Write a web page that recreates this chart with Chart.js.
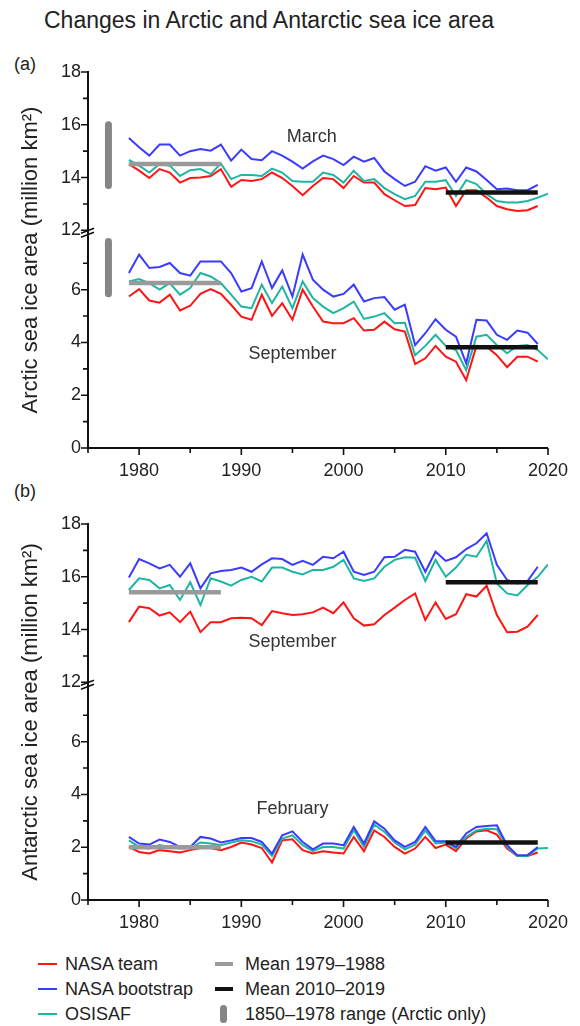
<!DOCTYPE html>
<html>
<head>
<meta charset="utf-8">
<script src="https://cdn.jsdelivr.net/npm/chart.js@4.4.1/dist/chart.umd.min.js"></script>
<style>
    html, body { margin: 0; padding: 0; background: #fff; }
    #page { position: relative; width: 580px; height: 1026px; overflow: hidden; font-family: 'Liberation Sans', Arial, sans-serif; color: #222; }
    #title { position: absolute; left: 0; top: 7px; width: 538px; text-align: center; font-size: 23px; }
    .panel { position: absolute; left: 14px; font-size: 18px; }
    canvas { position: absolute; left: 0; }
    .sw { position: absolute; }
    .lt { position: absolute; font-size: 18px; line-height: 22px; white-space: nowrap; }
</style>
</head>
<body>
<div id="page">
    <div id="title">Changes in Arctic and Antarctic sea ice area</div>
    <div class="panel" style="top:54px">(a)</div>
    <div class="panel" style="top:481px">(b)</div>
    <canvas id="chartA" width="580" height="482" style="top:0"></canvas>
    <canvas id="chartB" width="580" height="460" style="top:482px"></canvas>
    <div id="legend"></div>
</div>
<script>
    'use strict';

    const FONT = "'Liberation Sans', Arial, sans-serif";
    const RED = '#ff1414';
    const BLUE = '#3b3bff';
    const TEAL = '#1fb5a3';
    const GREY = '#9a9a9a';
    const BLACK = '#111111';
    const RANGE = '#858585';

    const years = [1979, 1980, 1981, 1982, 1983, 1984, 1985, 1986, 1987, 1988,
        1989, 1990, 1991, 1992, 1993, 1994, 1995, 1996, 1997, 1998,
        1999, 2000, 2001, 2002, 2003, 2004, 2005, 2006, 2007, 2008,
        2009, 2010, 2011, 2012, 2013, 2014, 2015, 2016, 2017, 2018,
        2019, 2020];

    const xTicks = [1975, 1980, 1985, 1990, 1995, 2000, 2005, 2010, 2015, 2020];
    const xLabels = [1980, 1990, 2000, 2010, 2020];
    const yHighTicks = [12, 13, 14, 15, 16, 17, 18];
    const yHighLabels = [12, 14, 16, 18];
    const yLowTicks = [0, 1, 2, 3, 4, 5, 6, 7];
    const yLowLabels = [0, 2, 4, 6];

    // Arctic, March (million km2)
    const arcMarTeam = [14.51, 14.26, 13.98, 14.32, 14.19, 13.81, 13.98, 14.00, 14.06, 14.32,
        13.65, 13.91, 13.87, 13.94, 14.19, 13.98, 13.68, 13.33, 13.68, 13.98,
        13.94, 13.60, 14.06, 13.81, 13.81, 13.37, 13.14, 12.92, 12.96, 13.60,
        13.56, 13.62, 12.92, 13.52, 13.52, 13.24, 12.92, 12.80, 12.73, 12.76,
        12.92];
    const arcMarBoot = [15.50, 15.15, 14.83, 15.25, 15.25, 14.83, 15.00, 15.08, 15.02, 15.25,
        14.64, 15.06, 14.70, 14.66, 15.00, 14.83, 14.60, 14.34, 14.61, 14.83,
        14.70, 14.47, 14.79, 14.60, 14.74, 14.23, 13.94, 13.68, 13.84, 14.43,
        14.26, 14.38, 13.84, 14.38, 14.23, 13.91, 13.56, 13.58, 13.52, 13.52,
        13.72];
    const arcMarOsi = [14.67, 14.45, 14.19, 14.51, 14.45, 14.06, 14.28, 14.32, 14.13, 14.53,
        13.94, 14.10, 14.10, 14.06, 14.34, 14.19, 13.87, 13.84, 13.84, 14.19,
        14.10, 13.81, 14.26, 13.87, 13.94, 13.60, 13.37, 13.18, 13.30, 13.84,
        13.84, 13.90, 13.30, 13.90, 13.75, 13.37, 13.11, 13.05, 13.05, 13.11,
        13.24, 13.39];

    // Arctic, September
    const arcSepTeam = [5.74, 6.02, 5.59, 5.51, 5.81, 5.21, 5.39, 5.84, 6.02, 5.84,
        5.43, 4.98, 4.86, 5.81, 5.01, 5.49, 4.86, 6.00, 5.36, 4.79,
        4.73, 4.73, 4.92, 4.45, 4.48, 4.79, 4.50, 4.41, 3.18, 3.40,
        3.87, 3.46, 3.27, 2.57, 3.87, 3.84, 3.52, 3.06, 3.46, 3.46,
        3.27];
    const arcSepBoot = [6.63, 7.33, 6.82, 6.86, 7.01, 6.63, 6.53, 7.07, 7.07, 7.07,
        6.63, 5.93, 6.06, 7.07, 6.06, 6.73, 5.74, 7.33, 6.38, 6.00,
        5.74, 5.84, 6.19, 5.55, 5.68, 5.72, 5.24, 5.43, 3.90, 4.35,
        4.88, 4.48, 4.22, 3.21, 4.86, 4.83, 4.29, 4.10, 4.45, 4.37,
        3.94];
    const arcSepOsi = [6.31, 6.40, 6.25, 6.00, 6.25, 5.81, 6.06, 6.63, 6.50, 6.25,
        5.81, 5.36, 5.30, 6.19, 5.49, 6.12, 5.30, 6.31, 5.68, 5.36,
        5.11, 5.30, 5.55, 4.89, 4.98, 5.11, 4.73, 4.75, 3.52, 3.87,
        4.29, 3.87, 3.71, 2.95, 4.22, 4.29, 3.90, 3.59, 3.87, 3.90,
        3.71, 3.36];

    // Antarctic, September
    const antSepTeam = [14.28, 14.87, 14.81, 14.53, 14.65, 14.28, 14.68, 13.90, 14.28, 14.28,
        14.43, 14.45, 14.43, 14.17, 14.70, 14.62, 14.55, 14.58, 14.65, 14.83,
        14.62, 15.03, 14.43, 14.15, 14.20, 14.55, 14.83, 15.12, 15.37, 14.36,
        15.03, 14.40, 14.58, 15.34, 15.25, 15.66, 14.55, 13.90, 13.92, 14.11,
        14.55];
    const antSepBoot = [15.97, 16.67, 16.51, 16.32, 16.45, 16.00, 16.51, 15.56, 16.13, 16.22,
        16.26, 16.35, 16.19, 16.47, 16.70, 16.67, 16.45, 16.60, 16.45, 16.76,
        16.70, 16.95, 16.19, 16.07, 16.19, 16.74, 16.76, 17.02, 16.95, 16.19,
        16.95, 16.60, 16.74, 17.05, 17.27, 17.65, 16.45, 15.88, 15.75, 15.84,
        16.38];
    const antSepOsi = [15.50, 15.94, 15.88, 15.56, 15.69, 15.12, 15.79, 14.93, 15.94, 15.82,
        15.66, 15.88, 16.00, 15.82, 16.35, 16.35, 16.19, 16.09, 16.26, 16.26,
        16.38, 16.64, 15.94, 15.84, 15.94, 16.38, 16.64, 16.74, 16.72, 15.84,
        16.64, 16.00, 16.35, 16.83, 16.76, 17.36, 15.75, 15.37, 15.29, 15.69,
        16.00, 16.47];

    // Antarctic, February
    const antFebTeam = [2.01, 1.82, 1.76, 1.89, 1.85, 1.80, 1.89, 1.97, 1.97, 1.89,
        2.01, 2.18, 2.10, 1.97, 1.42, 2.26, 2.30, 1.89, 1.76, 1.85,
        1.80, 1.76, 2.39, 1.85, 2.64, 2.39, 2.01, 1.76, 1.95, 2.39,
        1.97, 2.10, 1.85, 2.33, 2.60, 2.64, 2.48, 1.95, 1.67, 1.67,
        1.80];
    const antFebBoot = [2.39, 2.14, 2.10, 2.29, 2.20, 2.01, 2.01, 2.39, 2.33, 2.18,
        2.26, 2.35, 2.35, 2.20, 1.76, 2.45, 2.60, 2.20, 1.92, 2.14,
        2.14, 2.08, 2.77, 2.14, 2.98, 2.70, 2.26, 2.01, 2.20, 2.77,
        2.23, 2.23, 2.01, 2.52, 2.77, 2.80, 2.83, 2.08, 1.70, 1.70,
        2.01];
    const antFebOsi = [2.26, 2.01, 1.95, 2.08, 2.01, 1.95, 1.97, 2.18, 2.14, 2.08,
        2.18, 2.26, 2.23, 2.10, 1.67, 2.33, 2.45, 2.08, 1.85, 2.01,
        2.01, 1.95, 2.64, 2.01, 2.86, 2.58, 2.18, 1.92, 2.10, 2.64,
        2.14, 2.18, 1.95, 2.39, 2.64, 2.70, 2.68, 2.01, 1.67, 1.67,
        1.95, 1.97];

    // means: [1979-1988, 2010-2019]
    const earlyPeriod = [1979, 1988];
    const latePeriod = [2010, 2019];
    const arcMarMeans = [14.51, 13.43];
    const arcSepMeans = [6.25, 3.82];
    const antSepMeans = [15.41, 15.79];
    const antFebMeans = [2.00, 2.18];

    // 1850-1978 range (Arctic only)
    const rangeYear = 1977;
    const arcMarRange = [13.7, 16.0];
    const arcSepRange = [5.85, 7.83];

    function series(values, color, axis) {
        return {
            data: values.map(function (v, i) { return { x: years[i], y: v }; }),
            borderColor: color,
            borderWidth: 2,
            pointRadius: 0,
            tension: 0,
            yAxisID: axis,
        };
    }

    function meanLine(period, value, color, axis) {
        return {
            data: [{ x: period[0], y: value }, { x: period[1], y: value }],
            borderColor: color,
            borderWidth: 4.5,
            pointRadius: 0,
            yAxisID: axis,
        };
    }

    function rangeBar(range, axis) {
        return {
            data: [{ x: rangeYear, y: range[0] }, { x: rangeYear, y: range[1] }],
            borderColor: RANGE,
            borderWidth: 7,
            borderCapStyle: 'round',
            pointRadius: 0,
            yAxisID: axis,
        };
    }

    function yScale(min, max, ticks, labels) {
        return {
            type: 'linear',
            position: 'left',
            stack: 'area',
            stackWeight: max - min,
            min: min,
            max: max,
            grid: { display: false, drawTicks: false },
            border: { display: true, color: BLACK, width: 2 },
            afterBuildTicks: function (scale) {
                scale.ticks = ticks.map(function (v) { return { value: v }; });
            },
            afterFit: function (scale) { scale.width = 88; },
            ticks: {
                padding: 7,
                autoSkip: false,
                color: '#222',
                font: { size: 18, family: FONT },
                callback: function (v) { return labels.includes(v) ? String(v) : ''; },
            },
        };
    }

    const xScale = {
        type: 'linear',
        min: 1975,
        max: 2020,
        grid: { display: false, drawTicks: false },
        border: { display: true, color: BLACK, width: 2 },
        afterBuildTicks: function (scale) {
            scale.ticks = xTicks.map(function (v) { return { value: v }; });
        },
        afterFit: function (scale) { scale.height = 32; },
        ticks: {
            padding: 12,
            autoSkip: false,
            maxRotation: 0,
            color: '#222',
            font: { size: 18, family: FONT },
            callback: function (v) { return xLabels.includes(v) ? String(v) : ''; },
        },
    };

    // tick marks, axis break, axis title and month labels
    const decorations = {
        id: 'decorations',
        afterDraw: function (chart, args, opts) {
            const ctx = chart.ctx;
            const area = chart.chartArea;
            const x = chart.scales.x;
            const hi = chart.scales.yHigh;
            const lo = chart.scales.yLow;

            ctx.save();
            ctx.strokeStyle = BLACK;
            ctx.lineWidth = 1.6;
            ctx.beginPath();
            xTicks.forEach(function (v) {
                const px = x.getPixelForValue(v);
                const len = xLabels.includes(v) ? 7 : 5;
                ctx.moveTo(px, area.bottom);
                ctx.lineTo(px, area.bottom + len);
            });
            yHighTicks.forEach(function (v) {
                const py = hi.getPixelForValue(v);
                const len = yHighLabels.includes(v) ? 7 : 5;
                ctx.moveTo(area.left, py);
                ctx.lineTo(area.left - len, py);
            });
            yLowTicks.forEach(function (v) {
                const py = lo.getPixelForValue(v);
                const len = yLowLabels.includes(v) ? 7 : 5;
                ctx.moveTo(area.left, py);
                ctx.lineTo(area.left - len, py);
            });
            ctx.stroke();

            // break symbol on the y axis
            const by = hi.bottom + 2;
            ctx.lineWidth = 1.6;
            ctx.beginPath();
            ctx.moveTo(area.left - 7, by + 1);
            ctx.lineTo(area.left + 6, by - 4);
            ctx.moveTo(area.left - 7, by + 5);
            ctx.lineTo(area.left + 6, by);
            ctx.stroke();

            // axis title
            ctx.fillStyle = '#222';
            ctx.font = '22px ' + FONT;
            ctx.textAlign = 'center';
            ctx.textBaseline = 'middle';
            ctx.translate(31, (area.top + area.bottom) / 2);
            ctx.rotate(-Math.PI / 2);
            ctx.fillText(opts.title, 0, 0);
            ctx.setTransform(1, 0, 0, 1, 0, 0);

            // month labels
            ctx.fillStyle = '#333';
            ctx.font = '18px ' + FONT;
            opts.notes.forEach(function (n) {
                const sc = chart.scales[n.axis];
                ctx.fillText(n.text, x.getPixelForValue(n.x), sc.getPixelForValue(n.y));
            });
            ctx.restore();
        },
    };

    function makeChart(id, cfg) {
        return new Chart(document.getElementById(id), {
            type: 'line',
            data: { datasets: cfg.datasets },
            options: {
                responsive: false,
                animation: false,
                events: [],
                layout: { padding: cfg.padding },
                plugins: {
                    legend: { display: false },
                    tooltip: { enabled: false },
                    decorations: { title: cfg.title, notes: cfg.notes },
                },
                scales: {
                    x: xScale,
                    yLow: yScale(0, 8.25, yLowTicks, yLowLabels),
                    yHigh: yScale(12, 18, yHighTicks, yHighLabels),
                },
            },
            plugins: [decorations],
        });
    }

    makeChart('chartA', {
        padding: { top: 72, right: 23, bottom: 2, left: 0 },
        title: 'Arctic sea ice area (million km\u00b2)',
        notes: [
            { text: 'March', x: 1996.9, y: 15.54, axis: 'yHigh' },
            { text: 'September', x: 1995.0, y: 3.58, axis: 'yLow' },
        ],
        datasets: [
            meanLine(earlyPeriod, arcMarMeans[0], GREY, 'yHigh'),
            meanLine(latePeriod, arcMarMeans[1], BLACK, 'yHigh'),
            meanLine(earlyPeriod, arcSepMeans[0], GREY, 'yLow'),
            meanLine(latePeriod, arcSepMeans[1], BLACK, 'yLow'),
            rangeBar(arcMarRange, 'yHigh'),
            rangeBar(arcSepRange, 'yLow'),
            series(arcMarBoot, BLUE, 'yHigh'),
            series(arcMarOsi, TEAL, 'yHigh'),
            series(arcMarTeam, RED, 'yHigh'),
            series(arcSepBoot, BLUE, 'yLow'),
            series(arcSepOsi, TEAL, 'yLow'),
            series(arcSepTeam, RED, 'yLow'),
        ],
    });

    makeChart('chartB', {
        padding: { top: 42, right: 23, bottom: 10, left: 0 },
        title: 'Antarctic sea ice area (million km\u00b2)',
        notes: [
            { text: 'September', x: 1995.0, y: 13.54, axis: 'yHigh' },
            { text: 'February', x: 1995.0, y: 3.44, axis: 'yLow' },
        ],
        datasets: [
            meanLine(earlyPeriod, antSepMeans[0], GREY, 'yHigh'),
            meanLine(latePeriod, antSepMeans[1], BLACK, 'yHigh'),
            meanLine(earlyPeriod, antFebMeans[0], GREY, 'yLow'),
            meanLine(latePeriod, antFebMeans[1], BLACK, 'yLow'),
            series(antSepBoot, BLUE, 'yHigh'),
            series(antSepOsi, TEAL, 'yHigh'),
            series(antSepTeam, RED, 'yHigh'),
            series(antFebBoot, BLUE, 'yLow'),
            series(antFebOsi, TEAL, 'yLow'),
            series(antFebTeam, RED, 'yLow'),
        ],
    });

    // legend
    const legendItems = [
        { left: 38, row: 0, kind: 'line', color: RED, text: 'NASA team' },
        { left: 38, row: 1, kind: 'line', color: BLUE, text: 'NASA bootstrap' },
        { left: 38, row: 2, kind: 'line', color: TEAL, text: 'OSISAF' },
        { left: 215, row: 0, kind: 'mean', color: GREY, text: 'Mean 1979\u20131988' },
        { left: 215, row: 1, kind: 'mean', color: BLACK, text: 'Mean 2010\u20132019' },
        { left: 215, row: 2, kind: 'range', color: RANGE, text: '1850\u20131978 range (Arctic only)' },
    ];
    const rowY = [964, 989, 1014];

    document.getElementById('legend').innerHTML = legendItems.map(function (item) {
        const cy = rowY[item.row];
        let sw;
        if (item.kind === 'line') {
            sw = '<span class="sw" style="left:' + item.left + 'px;top:' + (cy - 1) + 'px;width:19px;height:2px;background:' + item.color + '"></span>';
        } else if (item.kind === 'mean') {
            sw = '<span class="sw" style="left:' + item.left + 'px;top:' + (cy - 2) + 'px;width:18px;height:4px;background:' + item.color + '"></span>';
        } else {
            sw = '<span class="sw" style="left:' + (item.left + 5) + 'px;top:' + (cy - 9) + 'px;width:7px;height:18px;border-radius:3.5px;background:' + item.color + '"></span>';
        }
        const tx = item.left + (item.kind === 'line' ? 27 : 30);
        return sw + '<span class="lt" style="left:' + tx + 'px;top:' + (cy - 11) + 'px">' + item.text + '</span>';
    }).join('');
</script>
</body>
</html>
